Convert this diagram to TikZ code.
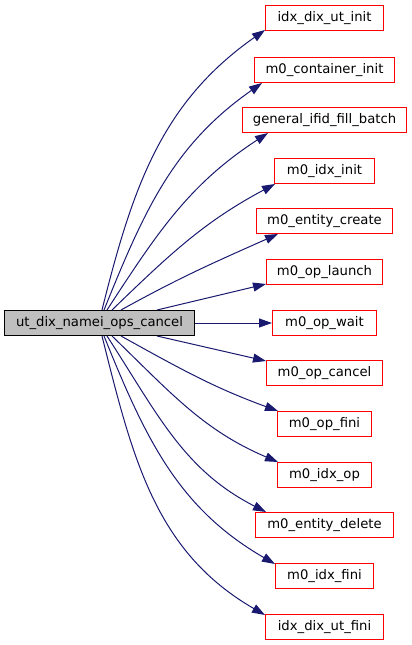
\documentclass[tikz,border=0pt]{standalone}
\usepackage{fontspec}
\setmainfont{DejaVu Sans}
\usetikzlibrary{arrows.meta}
\definecolor{edgeblue}{RGB}{25,25,112}
\definecolor{boxred}{RGB}{255,0,0}
\tikzset{
  fn/.style={draw=boxred, fill=white, line width=1pt, minimum height=25pt, inner sep=0pt, font=\fontsize{13.2}{15}\selectfont},
  mainfn/.style={draw=black, fill=black!25, line width=1pt, minimum width=190pt, minimum height=25pt, inner sep=0pt, font=\fontsize{13.2}{15}\selectfont},
  call/.style={draw=edgeblue, line width=1pt, -{Triangle[length=13pt,width=9pt]}}
}
\begin{document}
\begin{tikzpicture}[x=1pt,y=1pt]
\useasboundingbox (0,0) rectangle (412,-645);
\node[mainfn] (main) at (99.5,-323) {ut\_dix\_namei\_ops\_cancel};
\node[fn, minimum width=118pt] (n1) at (324.5,-18) {idx\_dix\_ut\_init};
\node[fn, minimum width=140pt] (n2) at (324.5,-70) {m0\_container\_init};
\node[fn, minimum width=164pt] (n3) at (324.5,-120) {general\_ifid\_fill\_batch};
\node[fn, minimum width=100pt] (n4) at (324.5,-171) {m0\_idx\_init};
\node[fn, minimum width=136pt] (n5) at (324.5,-221) {m0\_entity\_create};
\node[fn, minimum width=116pt] (n6) at (324.5,-272) {m0\_op\_launch};
\node[fn, minimum width=104pt] (n7) at (324.5,-323) {m0\_op\_wait};
\node[fn, minimum width=116pt] (n8) at (324.5,-373) {m0\_op\_cancel};
\node[fn, minimum width=94pt] (n9) at (324.5,-424) {m0\_op\_fini};
\node[fn, minimum width=94pt] (n10) at (324.5,-475) {m0\_idx\_op};
\node[fn, minimum width=138pt] (n11) at (324.5,-525) {m0\_entity\_delete};
\node[fn, minimum width=98pt] (n12) at (324.5,-576) {m0\_idx\_fini};
\node[fn, minimum width=118pt] (n13) at (324.5,-627) {idx\_dix\_ut\_fini};
% upper fan
\draw[call] ([xshift=98pt]main.north west) to[out=76,in=215] ([yshift=1pt]n1.south west);
\draw[call] ([xshift=100pt]main.north west) to[out=68,in=215] ([xshift=8pt]n2.south west);
\draw[call] ([xshift=103pt]main.north west) to[out=57,in=213] ([xshift=26pt]n3.south west);
\draw[call] ([xshift=108pt]main.north west) to[out=44,in=208] ([xshift=1pt]n4.south west);
\draw[call] ([xshift=117pt]main.north west) to[out=29,in=204] ([xshift=22pt]n5.south west);
\draw[call] ([xshift=153pt]main.north west) -- ([yshift=1pt]n6.south west);
\draw[call] (main.east) -- (main.east -| n7.west);
% lower fan
\draw[call] ([xshift=153pt]main.south west) -- ([yshift=-1pt]n8.north west);
\draw[call] ([xshift=117pt]main.south west) to[out=-29,in=160] ([xshift=1pt]n9.north west);
\draw[call] ([xshift=108pt]main.south west) to[out=-44,in=157] ([xshift=1pt]n10.north west);
\draw[call] ([xshift=103pt]main.south west) to[out=-57,in=153] ([xshift=11pt]n11.north west);
\draw[call] ([xshift=100pt]main.south west) to[out=-68,in=150] ([yshift=-1pt]n12.north west);
\draw[call] ([xshift=98pt]main.south west) to[out=-76,in=150] ([yshift=-1pt]n13.north west);
\end{tikzpicture}
\end{document}
